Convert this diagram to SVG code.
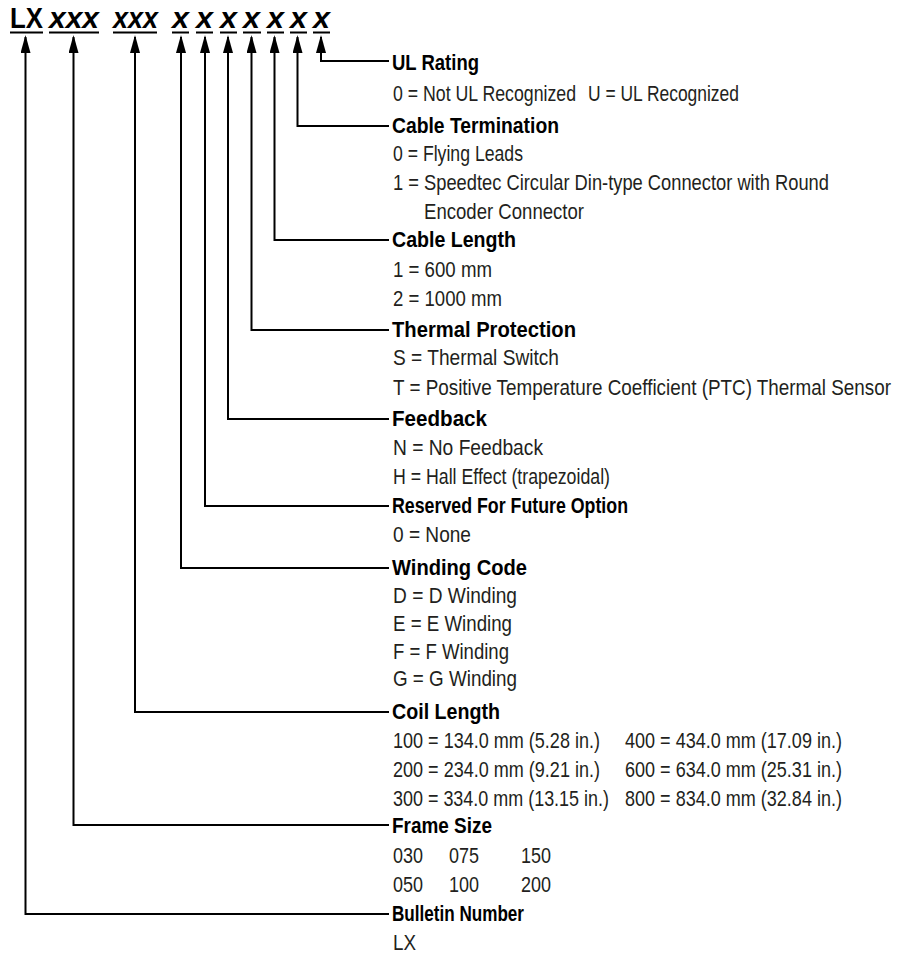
<svg xmlns="http://www.w3.org/2000/svg" width="909" height="956" viewBox="0 0 909 956">
<style>
text{font-family:"Liberation Sans Narrow","Liberation Sans",Arial,sans-serif;fill:#000}
.h{font-weight:bold;font-size:22.5px}
.b{font-size:21.5px;fill:#231f20}
.code{font-weight:bold;font-size:30px}
.it{font-style:italic}
.ul{stroke:#000;stroke-width:2}
.conn{fill:none;stroke:#000;stroke-width:2}
</style>
<defs>
<marker id="arr" markerUnits="userSpaceOnUse" markerWidth="20" markerHeight="11" refX="16" refY="5" orient="auto-start-reverse">
<path d="M0,0 L18,5 L0,10 Z" fill="#000"/>
</marker>
</defs>
<g id="catalog-code">
<text class="code" x="10" y="28" textLength="33" lengthAdjust="spacingAndGlyphs">LX</text>
<text class="code it" x="49" y="28" textLength="50" lengthAdjust="spacingAndGlyphs">xxx</text>
<text class="code it" x="113" y="28" textLength="45" lengthAdjust="spacingAndGlyphs">xxx</text>
<text class="code it" x="172" y="28" textLength="17" lengthAdjust="spacingAndGlyphs">x</text>
<text class="code it" x="196" y="28" textLength="17" lengthAdjust="spacingAndGlyphs">x</text>
<text class="code it" x="220" y="28" textLength="17" lengthAdjust="spacingAndGlyphs">x</text>
<text class="code it" x="243" y="28" textLength="17" lengthAdjust="spacingAndGlyphs">x</text>
<text class="code it" x="267" y="28" textLength="17" lengthAdjust="spacingAndGlyphs">x</text>
<text class="code it" x="290" y="28" textLength="17" lengthAdjust="spacingAndGlyphs">x</text>
<text class="code it" x="313" y="28" textLength="17" lengthAdjust="spacingAndGlyphs">x</text>
<path class="ul" d="M10,32.5H43M49,32.5H99M113,32.5H157M172,32.5H189M196,32.5H213M220,32.5H237M243,32.5H261M267,32.5H284M290,32.5H307M313,32.5H330"/>
</g>
<g id="connectors">
<path class="conn" marker-start="url(#arr)" d="M321,37V61H389"/>
<path class="conn" marker-start="url(#arr)" d="M297.5,37V126H389"/>
<path class="conn" marker-start="url(#arr)" d="M274.5,37V240H389"/>
<path class="conn" marker-start="url(#arr)" d="M251.5,37V330H389"/>
<path class="conn" marker-start="url(#arr)" d="M228,37V419H389"/>
<path class="conn" marker-start="url(#arr)" d="M205,37V506H389"/>
<path class="conn" marker-start="url(#arr)" d="M181,37V568H389"/>
<path class="conn" marker-start="url(#arr)" d="M135,37V712H389"/>
<path class="conn" marker-start="url(#arr)" d="M73.5,37V825H389"/>
<path class="conn" marker-start="url(#arr)" d="M25.5,37V914H389"/>
</g>
<g id="ul-rating" transform="translate(392,0) scale(0.8,1)">
<text class="h" x="0" y="70" textLength="108.75" lengthAdjust="spacingAndGlyphs">UL Rating</text>
<text class="b" x="1.25" y="101" textLength="228.75" lengthAdjust="spacingAndGlyphs">0 = Not UL Recognized</text>
<text class="b" x="245" y="101" textLength="188.75" lengthAdjust="spacingAndGlyphs">U = UL Recognized</text>
</g>
<g id="cable-termination" transform="translate(392,0) scale(0.8,1)">
<text class="h" x="0" y="133" textLength="208.75" lengthAdjust="spacingAndGlyphs">Cable Termination</text>
<text class="b" x="1.25" y="161" textLength="162.5" lengthAdjust="spacingAndGlyphs">0 = Flying Leads</text>
<text class="b" x="1.25" y="190" textLength="545" lengthAdjust="spacingAndGlyphs">1 = Speedtec Circular Din-type Connector with Round</text>
<text class="b" x="40" y="219" textLength="200" lengthAdjust="spacingAndGlyphs">Encoder Connector</text>
</g>
<g id="cable-length" transform="translate(392,0) scale(0.8,1)">
<text class="h" x="0" y="247" textLength="155" lengthAdjust="spacingAndGlyphs">Cable Length</text>
<text class="b" x="1.25" y="277" textLength="123.75" lengthAdjust="spacingAndGlyphs">1 = 600 mm</text>
<text class="b" x="1.25" y="306" textLength="136.25" lengthAdjust="spacingAndGlyphs">2 = 1000 mm</text>
</g>
<g id="thermal-protection" transform="translate(392,0) scale(0.8,1)">
<text class="h" x="0" y="337" textLength="230" lengthAdjust="spacingAndGlyphs">Thermal Protection</text>
<text class="b" x="1.25" y="365" textLength="207.5" lengthAdjust="spacingAndGlyphs">S = Thermal Switch</text>
<text class="b" x="1.25" y="395" textLength="622.5" lengthAdjust="spacingAndGlyphs">T = Positive Temperature Coefficient (PTC) Thermal Sensor</text>
</g>
<g id="feedback" transform="translate(392,0) scale(0.8,1)">
<text class="h" x="0" y="426" textLength="118.75" lengthAdjust="spacingAndGlyphs">Feedback</text>
<text class="b" x="1.25" y="455" textLength="187.5" lengthAdjust="spacingAndGlyphs">N = No Feedback</text>
<text class="b" x="1.25" y="484" textLength="271.25" lengthAdjust="spacingAndGlyphs">H = Hall Effect (trapezoidal)</text>
</g>
<g id="reserved" transform="translate(392,0) scale(0.8,1)">
<text class="h" x="0" y="513" textLength="295" lengthAdjust="spacingAndGlyphs">Reserved For Future Option</text>
<text class="b" x="1.25" y="542" textLength="97.5" lengthAdjust="spacingAndGlyphs">0 = None</text>
</g>
<g id="winding-code" transform="translate(392,0) scale(0.8,1)">
<text class="h" x="0" y="575" textLength="168.75" lengthAdjust="spacingAndGlyphs">Winding Code</text>
<text class="b" x="1.25" y="603" textLength="155" lengthAdjust="spacingAndGlyphs">D = D Winding</text>
<text class="b" x="1.25" y="631" textLength="148.75" lengthAdjust="spacingAndGlyphs">E = E Winding</text>
<text class="b" x="1.25" y="659" textLength="145" lengthAdjust="spacingAndGlyphs">F = F Winding</text>
<text class="b" x="1.25" y="686" textLength="155" lengthAdjust="spacingAndGlyphs">G = G Winding</text>
</g>
<g id="coil-length" transform="translate(392,0) scale(0.8,1)">
<text class="h" x="0" y="719" textLength="135" lengthAdjust="spacingAndGlyphs">Coil Length</text>
<text class="b" x="1.25" y="748" textLength="258.75" lengthAdjust="spacingAndGlyphs">100 = 134.0 mm (5.28 in.)</text>
<text class="b" x="291.25" y="748" textLength="271.25" lengthAdjust="spacingAndGlyphs">400 = 434.0 mm (17.09 in.)</text>
<text class="b" x="1.25" y="777" textLength="258.75" lengthAdjust="spacingAndGlyphs">200 = 234.0 mm (9.21 in.)</text>
<text class="b" x="291.25" y="777" textLength="271.25" lengthAdjust="spacingAndGlyphs">600 = 634.0 mm (25.31 in.)</text>
<text class="b" x="1.25" y="806" textLength="270" lengthAdjust="spacingAndGlyphs">300 = 334.0 mm (13.15 in.)</text>
<text class="b" x="291.25" y="806" textLength="271.25" lengthAdjust="spacingAndGlyphs">800 = 834.0 mm (32.84 in.)</text>
</g>
<g id="frame-size" transform="translate(392,0) scale(0.8,1)">
<text class="h" x="0" y="833" textLength="125" lengthAdjust="spacingAndGlyphs">Frame Size</text>
<text class="b" x="1.25" y="863" textLength="37.5" lengthAdjust="spacingAndGlyphs">030</text>
<text class="b" x="71.25" y="863" textLength="37.5" lengthAdjust="spacingAndGlyphs">075</text>
<text class="b" x="161.25" y="863" textLength="37.5" lengthAdjust="spacingAndGlyphs">150</text>
<text class="b" x="1.25" y="892" textLength="37.5" lengthAdjust="spacingAndGlyphs">050</text>
<text class="b" x="71.25" y="892" textLength="37.5" lengthAdjust="spacingAndGlyphs">100</text>
<text class="b" x="161.25" y="892" textLength="37.5" lengthAdjust="spacingAndGlyphs">200</text>
</g>
<g id="bulletin-number" transform="translate(392,0) scale(0.8,1)">
<text class="h" x="0" y="921" textLength="165" lengthAdjust="spacingAndGlyphs">Bulletin Number</text>
<text class="b" x="1.25" y="950" textLength="28.75" lengthAdjust="spacingAndGlyphs">LX</text>
</g>
</svg>
